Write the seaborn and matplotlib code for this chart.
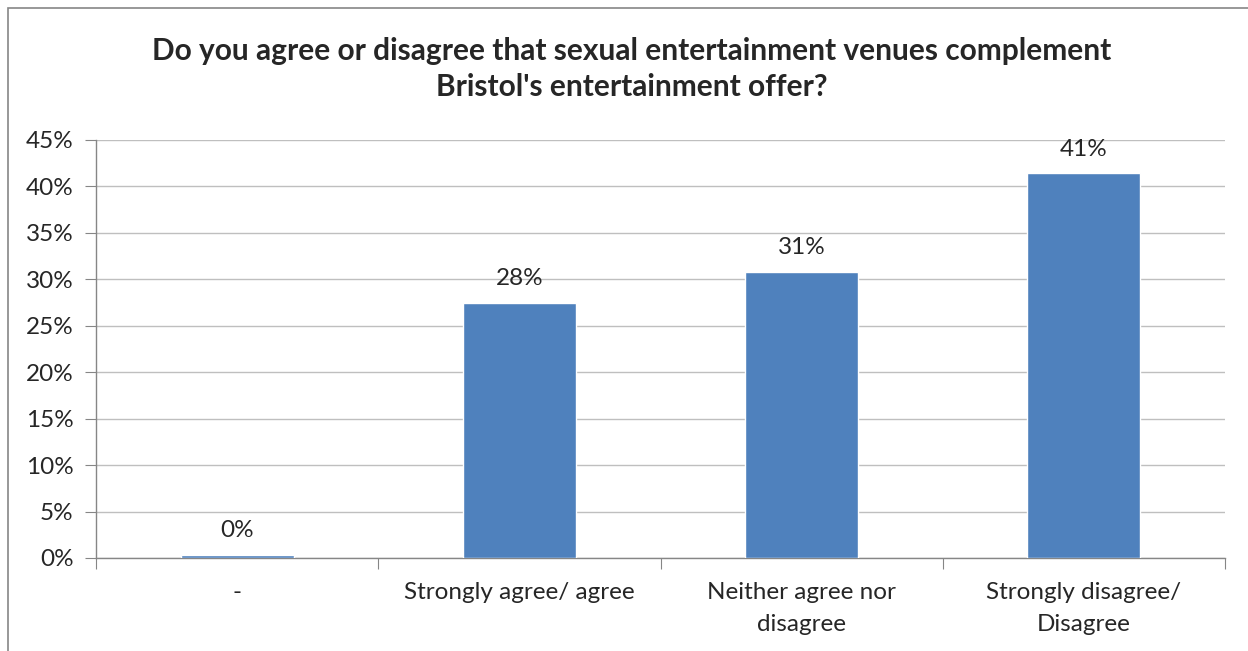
import matplotlib
matplotlib.use("Agg")
import matplotlib.pyplot as plt
from matplotlib.patches import Rectangle
from matplotlib.ticker import MultipleLocator, PercentFormatter
import seaborn as sns
import pandas as pd

# chart data
categories = ["-", "Strongly agree/ agree", "Neither agree nor\ndisagree", "Strongly disagree/\nDisagree"]
values = [0.3, 27.5, 30.8, 41.4]
value_labels = ["0%", "28%", "31%", "41%"]
title = "Do you agree or disagree that sexual entertainment venues complement\nBristol's entertainment offer?"

BAR_COLOR = "#4F81BD"
GRID_COLOR = "#BFBFBF"
AXIS_COLOR = "#868686"

sns.set_style("white")
plt.rcParams['font.family'] = ['Lato', 'DejaVu Sans']

df = pd.DataFrame({"category": categories, "value": values})

fig = plt.figure(figsize=(12.48, 6.51), dpi=100)
ax = fig.add_axes([96 / 1248, 1 - 558 / 651, (1225 - 96) / 1248, (558 - 140) / 651])

sns.barplot(data=df, x="category", y="value", color=BAR_COLOR, width=0.4,
            saturation=1, ax=ax, zorder=3)

ax.set_ylim(0, 45)
ax.set_xlim(-0.5, len(categories) - 0.5)
ax.yaxis.set_major_locator(MultipleLocator(5))
ax.yaxis.set_major_formatter(PercentFormatter(decimals=0))
ax.grid(axis="y", color=GRID_COLOR, linewidth=1, zorder=0)
ax.set_axisbelow(True)
ax.set_xlabel("")
ax.set_ylabel("")

for s in ["top", "right"]:
    ax.spines[s].set_visible(False)
for s in ["left", "bottom"]:
    ax.spines[s].set_color(AXIS_COLOR)
    ax.spines[s].set_linewidth(1)

# category ticks at boundaries, labels centred
ax.set_xticks([i - 0.5 for i in range(len(categories) + 1)], minor=False)
ax.set_xticklabels([])
ax.set_xticks(range(len(categories)), minor=True)
ax.set_xticklabels(categories, minor=True, fontsize=17.5, linespacing=1.6)
ax.tick_params(axis="x", which="major", length=8, color=AXIS_COLOR, direction="out", bottom=True)
ax.tick_params(axis="x", which="minor", length=0, pad=17.5, bottom=True)
ax.tick_params(axis="y", length=8, color=AXIS_COLOR, direction="out", labelsize=17.5, pad=8, left=True)

for i, (v, lab) in enumerate(zip(values, value_labels)):
    ax.annotate(lab, (i, v), xytext=(0, 10), textcoords="offset points",
                ha="center", va="bottom", fontsize=17.5)

fig.text(0.506, 1 - 69 / 651, title, ha="center", va="center", fontsize=21.5,
         fontweight="bold", linespacing=1.38)

# chart frame (only left and top visible in crop)
fig.patches.append(Rectangle((8 / 1248, -0.5), 2, 0.5 + 1 - 8 / 651, transform=fig.transFigure,
                             fill=False, edgecolor=AXIS_COLOR, linewidth=1.2))

fig.savefig("out.png", dpi=100)
